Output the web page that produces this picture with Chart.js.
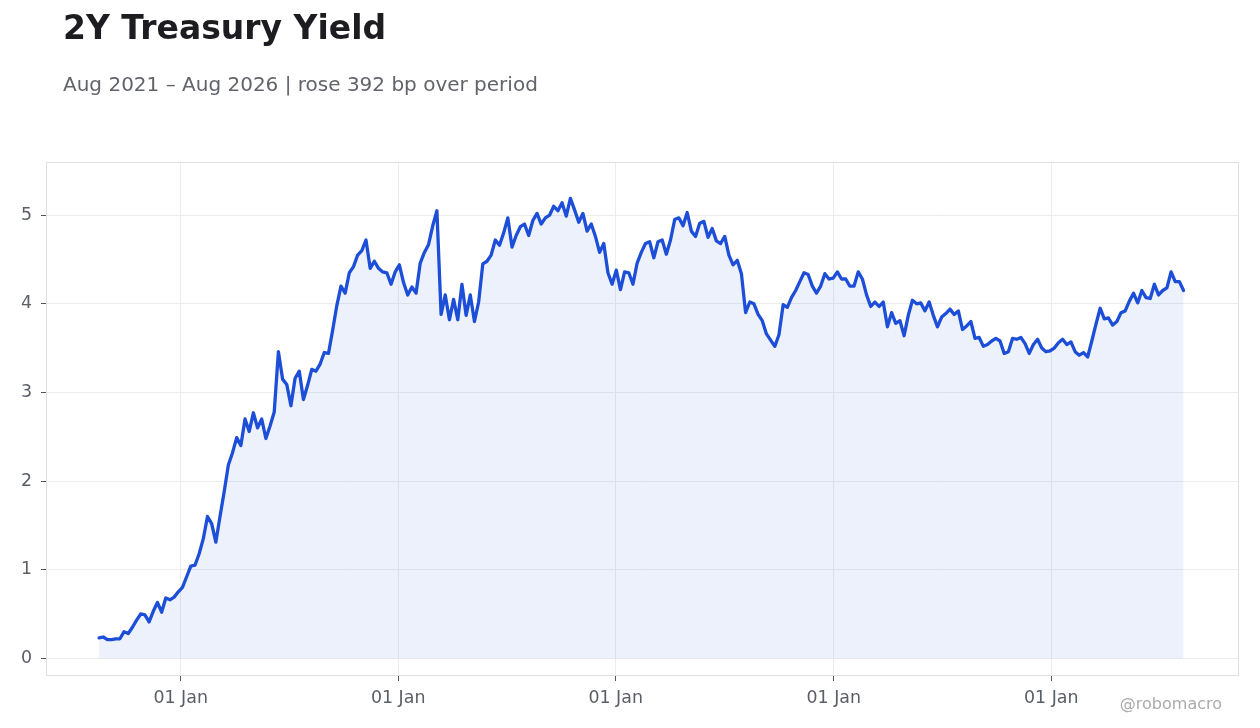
<!DOCTYPE html>
<html><head><meta charset="utf-8">
<script src="https://cdn.jsdelivr.net/npm/chart.js@4.4.1/dist/chart.umd.min.js"></script>
<style>
html,body{margin:0;padding:0;background:#fff;}
body{width:1260px;height:728px;position:relative;overflow:hidden;font-family:"DejaVu Sans",sans-serif;}
#title{position:absolute;left:63px;top:9px;font-size:33px;line-height:1.164;font-weight:bold;color:#1c1c21;white-space:nowrap;}
#subtitle{position:absolute;left:63px;top:73px;font-size:20px;line-height:1.164;color:#62646b;white-space:nowrap;}
#wm{position:absolute;right:38px;top:695px;font-size:16px;line-height:1.164;color:#ababab;white-space:nowrap;}
#wrap{position:absolute;left:0;top:0;width:1260px;height:728px;}
</style></head>
<body>
<div id="wrap"><canvas id="c"></canvas></div>
<div id="title">2Y Treasury Yield</div>
<div id="subtitle">Aug 2021 – Aug 2026 | rose 392 bp over period</div>
<div id="wm">@robomacro</div>
<script>
// ---- data ----
const seriesName = '2Y Treasury Yield';
const startDate = '2021-08-17';   // first weekly observation
const stepDays = 7;               // weekly observations
const yields = [
0.23,0.24,0.21,0.21,0.22,0.22,0.30,0.28,0.35,0.43,
0.50,0.49,0.41,0.53,0.63,0.52,0.68,0.66,0.69,0.75,
0.80,0.92,1.04,1.05,1.18,1.35,1.60,1.52,1.31,1.60,
1.88,2.18,2.32,2.49,2.40,2.70,2.56,2.77,2.60,2.70,
2.48,2.62,2.78,3.46,3.15,3.09,2.85,3.16,3.24,2.92,
3.08,3.26,3.24,3.32,3.45,3.44,3.70,3.98,4.20,4.12,
4.35,4.42,4.55,4.60,4.72,4.40,4.48,4.40,4.36,4.35,
4.22,4.36,4.44,4.24,4.10,4.19,4.12,4.46,4.58,4.67,
4.88,5.05,3.88,4.10,3.82,4.05,3.82,4.22,3.87,4.10,
3.80,4.02,4.45,4.48,4.55,4.72,4.66,4.80,4.97,4.64,
4.77,4.87,4.90,4.77,4.94,5.02,4.90,4.97,5.00,5.10,
5.05,5.14,4.99,5.19,5.06,4.92,5.02,4.82,4.90,4.76,
4.58,4.68,4.35,4.22,4.38,4.16,4.36,4.35,4.22,4.46,
4.58,4.68,4.70,4.52,4.70,4.72,4.56,4.72,4.95,4.97,
4.88,5.03,4.82,4.76,4.91,4.93,4.75,4.85,4.71,4.68,
4.76,4.55,4.44,4.49,4.34,3.90,4.02,4.00,3.88,3.81,
3.66,3.59,3.52,3.65,3.99,3.96,4.07,4.15,4.25,4.35,
4.33,4.20,4.12,4.20,4.34,4.28,4.29,4.36,4.28,4.28,
4.20,4.20,4.36,4.28,4.10,3.97,4.02,3.97,4.02,3.74,
3.90,3.78,3.81,3.64,3.87,4.04,4.00,4.01,3.92,4.02,
3.87,3.74,3.85,3.89,3.94,3.88,3.92,3.71,3.75,3.80,
3.61,3.62,3.52,3.54,3.58,3.61,3.58,3.44,3.46,3.61,
3.60,3.62,3.55,3.44,3.54,3.60,3.50,3.46,3.47,3.50,
3.56,3.60,3.54,3.57,3.46,3.42,3.45,3.40,3.58,3.77,
3.95,3.83,3.84,3.76,3.80,3.90,3.92,4.03,4.12,4.01,
4.15,4.07,4.06,4.22,4.10,4.15,4.18,4.36,4.25,4.25,
4.15
];
const xTickDates = ['2022-01-01','2023-01-01','2024-01-01','2025-01-01','2026-01-01'];
const xTickLabels = ['01 Jan','01 Jan','01 Jan','01 Jan','01 Jan'];
const xRange = ['2021-05-20','2026-11-12'];
const yTicks = [0,1,2,3,4,5];
const yRange = [-0.2, 5.6];

// ---- build ----
const toMs = s => Date.parse(s + 'T00:00:00Z');
const DAY = 86400000;
const t0 = toMs(startDate);
const points = yields.map((v, i) => ({x: t0 + i * stepDays * DAY, y: v}));
const tickMs = xTickDates.map(toMs);

const boxPlugin = {
  id: 'box',
  afterDraw(chart) {
    const a = chart.chartArea, ctx = chart.ctx;
    ctx.save();
    ctx.strokeStyle = '#e0e0e0';
    ctx.lineWidth = 1;
    ctx.strokeRect(Math.round(a.left) + 0.5, Math.round(a.top) + 0.5,
                   Math.round(a.right - a.left) - 1, Math.round(a.bottom - a.top) - 1);
    ctx.restore();
  }
};

const FONT = {family: '"DejaVu Sans", sans-serif', size: 17.4};
const TICKC = '#5a5e66';

new Chart(document.getElementById('c'), {
  type: 'line',
  data: {
    datasets: [{
      label: seriesName,
      data: points,
      borderColor: '#1d4ed8',
      borderWidth: 3.3,
      backgroundColor: 'rgba(29,78,216,0.08)',
      fill: 'origin',
      pointRadius: 0,
      tension: 0,
      borderJoinStyle: 'round',
      borderCapStyle: 'round'
    }]
  },
  options: {
    responsive: true,
    maintainAspectRatio: false,
    animation: false,
    layout: {padding: {top: 162, right: 21, left: 0, bottom: 0}},
    plugins: {legend: {display: false}, tooltip: {enabled: false}},
    scales: {
      x: {
        type: 'linear',
        min: toMs(xRange[0]),
        max: toMs(xRange[1]),
        afterBuildTicks: s => { s.ticks = tickMs.map(v => ({value: v})); },
        afterFit: s => { s.height = 52; },
        ticks: {
          font: FONT, color: TICKC, padding: 7, maxRotation: 0, autoSkip: false,
          callback: (v) => { const k = tickMs.indexOf(v); return k >= 0 ? xTickLabels[k] : ''; }
        },
        grid: {color: '#ececec', tickColor: '#555', tickLength: 5, lineWidth: 1},
        border: {display: false}
      },
      y: {
        type: 'linear',
        min: yRange[0],
        max: yRange[1],
        afterBuildTicks: s => { s.ticks = yTicks.map(v => ({value: v})); },
        afterFit: s => { s.width = 46; },
        ticks: {font: FONT, color: TICKC, padding: 9, callback: v => String(v)},
        grid: {color: '#ececec', tickColor: '#555', tickLength: 5, lineWidth: 1},
        border: {display: false}
      }
    }
  },
  plugins: [boxPlugin]
});
</script>
</body></html>
